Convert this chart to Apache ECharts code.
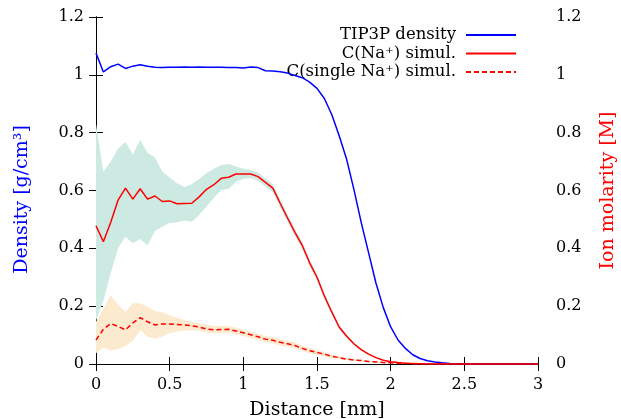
<!DOCTYPE html>
<html><head><meta charset="utf-8">
<script src="https://cdn.jsdelivr.net/npm/echarts@6/dist/echarts.min.js"></script>
<style>html,body{margin:0;padding:0;background:#fff}#c{width:621px;height:419px}</style>
</head><body><div id="c"></div>
<script>
const distance = [0,0.05,0.1,0.15,0.2,0.25,0.3,0.35,0.4,0.45,0.5,0.55,0.6,0.65,0.7,0.75,0.8,0.85,0.9,0.95,1.0,1.05,1.1,1.15,1.2,1.25,1.3,1.35,1.4,1.45,1.5,1.55,1.6,1.65,1.7,1.75,1.8,1.85,1.9,1.95,2.0,2.05,2.1,2.15,2.2,2.25,2.3,2.35,2.4,2.45,2.5,2.55,2.6,2.65,2.7,2.75,2.8,2.85,2.9,2.95,3.0];
const tip3pDensity = [1.075,1.01,1.028,1.037,1.022,1.03,1.035,1.03,1.026,1.025,1.026,1.026,1.027,1.026,1.027,1.026,1.026,1.026,1.025,1.025,1.024,1.027,1.025,1.014,1.013,1.011,1.006,0.998,0.99,0.975,0.953,0.918,0.863,0.79,0.71,0.605,0.49,0.385,0.28,0.195,0.128,0.083,0.054,0.032,0.019,0.011,0.007,0.004,0.002,0.001,0,0,0,0,0,0,0,0,0,0,0];
const cNa = [0.478,0.423,0.49,0.567,0.608,0.57,0.606,0.57,0.581,0.562,0.564,0.554,0.555,0.556,0.578,0.604,0.62,0.642,0.646,0.657,0.657,0.657,0.648,0.628,0.608,0.556,0.505,0.455,0.41,0.35,0.30,0.235,0.18,0.128,0.097,0.07,0.05,0.034,0.022,0.013,0.008,0.005,0.003,0.002,0.001,0,0,0,0,0,0,0,0,0,0,0,0,0,0,0,0];
const cNaUpper = [0.83,0.665,0.70,0.745,0.768,0.725,0.775,0.73,0.715,0.665,0.645,0.625,0.612,0.622,0.64,0.66,0.675,0.688,0.692,0.683,0.675,0.671,0.662,0.642,0.622,0.57,0.518,0.467,0.422,0.361,0.31,0.245,0.188,0.135,0.103,0.075,0.054,0.037,0.024,0.014,0.009,0.006,0.004,0.003,0.002,0,0,0,0,0,0,0,0,0,0,0,0,0,0,0,0];
const cNaLower = [0.15,0.22,0.315,0.40,0.44,0.418,0.432,0.41,0.46,0.475,0.488,0.49,0.496,0.492,0.515,0.545,0.575,0.602,0.605,0.63,0.641,0.643,0.634,0.614,0.594,0.542,0.492,0.443,0.398,0.339,0.29,0.225,0.172,0.121,0.091,0.065,0.046,0.031,0.02,0.012,0.007,0.004,0.002,0.001,0,0,0,0,0,0,0,0,0,0,0,0,0,0,0,0,0];
const cSingle = [0.083,0.12,0.14,0.13,0.118,0.142,0.16,0.146,0.135,0.138,0.138,0.137,0.135,0.132,0.128,0.121,0.118,0.119,0.12,0.114,0.108,0.101,0.094,0.086,0.082,0.075,0.07,0.064,0.054,0.046,0.04,0.034,0.027,0.022,0.017,0.014,0.012,0.009,0.007,0.005,0.004,0.003,0.002,0.001,0,0,0,0,0,0,0,0,0,0,0,0,0,0,0,0,0];
const cSingleUpper = [0.146,0.19,0.238,0.205,0.18,0.21,0.21,0.198,0.183,0.18,0.168,0.16,0.152,0.146,0.141,0.136,0.131,0.131,0.131,0.125,0.119,0.112,0.105,0.097,0.093,0.086,0.08,0.074,0.063,0.055,0.048,0.041,0.033,0.027,0.021,0.017,0.015,0.011,0.009,0.006,0.005,0.004,0.003,0.002,0,0,0,0,0,0,0,0,0,0,0,0,0,0,0,0,0];
const cSingleLower = [0.037,0.058,0.047,0.052,0.062,0.08,0.117,0.094,0.087,0.095,0.107,0.112,0.116,0.117,0.115,0.108,0.106,0.107,0.109,0.103,0.097,0.09,0.083,0.075,0.071,0.064,0.06,0.054,0.045,0.037,0.032,0.027,0.021,0.017,0.013,0.011,0.009,0.007,0.005,0.004,0.003,0.002,0.001,0,0,0,0,0,0,0,0,0,0,0,0,0,0,0,0,0,0];
const xTicks = {min:0, max:3, interval:0.5};
const yTicks = {min:0, max:1.2, interval:0.2};
const names = ['TIP3P density','C(Na\u207A) simul.','C(single Na\u207A) simul.'];

const FONT = 'DejaVu Serif';
const pair = arr => distance.map((x,i)=>[x, arr[i]]);
function bandSeries(upper, lower, fill, z){
  return {
    type:'custom', xAxisIndex:0, yAxisIndex:1, silent:true, z:z, clip:true,
    data:[[distance[0], lower[0]]],
    encode:{x:0, y:1},
    renderItem:function(params, api){
      const pts = [];
      for (let i=0;i<distance.length;i++) pts.push(api.coord([distance[i], upper[i]]));
      for (let i=distance.length-1;i>=0;i--) pts.push(api.coord([distance[i], lower[i]]));
      return {type:'polygon', shape:{points:pts}, style:{fill:fill, stroke:null}};
    }
  };
}
const axisCommon = {
  axisLine:{show:true, lineStyle:{color:'#000', width:1}},
  axisTick:{show:true, inside:true, length:7, lineStyle:{color:'#000'}},
  splitLine:{show:false},
  axisLabel:{fontFamily:FONT, fontSize:16, color:'#000'}
};
const chart = echarts.init(document.getElementById('c'), null, {renderer:'canvas'});
chart.setOption({
  animation:false,
  backgroundColor:'#fff',
  grid:{left:96, right:83, top:17, bottom:55, containLabel:false, outerBoundsMode:'none'},
  legend:{
    data:names, orient:'vertical', right:104, top:26, align:'right', padding:0,
    itemWidth:50, itemHeight:14, itemGap:0.5,
    itemStyle:{color:'rgba(0,0,0,0)', borderWidth:0, opacity:0},
    textStyle:{fontFamily:FONT, fontSize:16.5, color:'#000', lineHeight:18, padding:[0,5,0,0]}
  },
  xAxis:[
    Object.assign({}, axisCommon, {type:'value', position:'bottom', min:xTicks.min, max:xTicks.max, interval:xTicks.interval,
      name:'Distance [nm]', nameLocation:'middle', nameGap:37,
      nameTextStyle:{fontFamily:FONT, fontSize:19, color:'#000'},
      axisLabel:Object.assign({}, axisCommon.axisLabel, {margin:13})}),
    Object.assign({}, axisCommon, {type:'value', position:'top', min:xTicks.min, max:xTicks.max, interval:xTicks.interval,
      axisLabel:{show:false}})
  ],
  yAxis:[
    Object.assign({}, axisCommon, {type:'value', position:'left', min:yTicks.min, max:yTicks.max, interval:yTicks.interval,
      name:'Density [g/cm\u00B3]', nameLocation:'middle', nameGap:64,
      nameTextStyle:{fontFamily:FONT, fontSize:19, color:'#0000ff', padding:[0,0,0,-18]},
      axisLabel:Object.assign({}, axisCommon.axisLabel, {margin:12})}),
    Object.assign({}, axisCommon, {type:'value', position:'right', min:yTicks.min, max:yTicks.max, interval:yTicks.interval,
      name:'Ion molarity [M]', nameLocation:'middle', nameGap:61,
      nameTextStyle:{fontFamily:FONT, fontSize:19, color:'#ff0000'},
      axisLabel:Object.assign({}, axisCommon.axisLabel, {margin:18})})
  ],
  series:[
    bandSeries(cNaUpper, cNaLower, '#cdeae2', 1),
    bandSeries(cSingleUpper, cSingleLower, '#fbeacd', 2),
    {name:names[0], type:'line', xAxisIndex:0, yAxisIndex:0, data:pair(tip3pDensity), symbol:'none', color:'#0000ff', lineStyle:{color:'#0000ff', width:1.5}, z:5},
    {name:names[1], type:'line', xAxisIndex:0, yAxisIndex:1, data:pair(cNa), symbol:'none', color:'#ff0000', lineStyle:{color:'#ff0000', width:1.5}, z:5},
    {name:names[2], type:'line', xAxisIndex:0, yAxisIndex:1, data:pair(cSingle), symbol:'none', color:'#ff0000', lineStyle:{color:'#ff0000', width:1.5, type:[5,3]}, z:5}
  ]
});
</script></body></html>
